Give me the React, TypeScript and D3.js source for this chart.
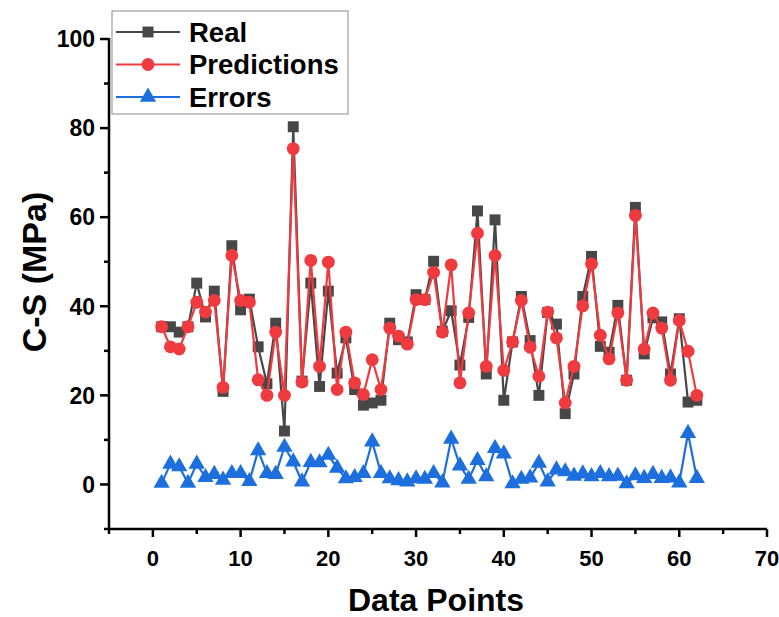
import React from 'react'
import * as d3 from 'd3'

// data
const real = [
  35.4, 35.4, 34.2, 35.4, 45.2, 37.6, 43.4, 20.9, 53.6, 39.2,
  41.6, 30.9, 22.6, 36.2, 12.0, 80.3, 23.2, 45.2, 22.0, 43.4,
  25.0, 32.9, 21.3, 17.8, 18.3, 18.9, 36.2, 32.5, 32.0, 42.6,
  41.5, 50.1, 34.4, 39.0, 26.8, 37.5, 61.4, 24.8, 59.4, 18.9,
  32.0, 42.2, 32.3, 20.0, 38.6, 36.0, 15.9, 24.8, 42.2, 51.2,
  31.0, 29.7, 40.2, 23.4, 62.2, 29.3, 37.4, 36.5, 24.8, 37.2,
  18.5, 18.9,
]
const predictions = [
  35.4, 30.9, 30.4, 35.4, 40.9, 38.7, 41.3, 21.8, 51.4, 41.3,
  40.9, 23.5, 20.0, 34.2, 20.0, 75.4, 23.0, 50.3, 26.5, 49.9,
  21.3, 34.2, 22.8, 20.2, 28.0, 21.3, 35.1, 33.3, 31.5, 41.5,
  41.5, 47.6, 34.2, 49.3, 22.8, 38.5, 56.4, 26.5, 51.4, 25.6,
  32.0, 41.3, 30.8, 24.3, 38.7, 32.9, 18.3, 26.5, 40.1, 49.5,
  33.5, 28.2, 38.5, 23.4, 60.4, 30.4, 38.5, 35.1, 23.4, 36.8,
  29.9, 20.0,
]
const errors = [
  0.3, 4.6, 4.0, 0.3, 4.6, 1.6, 2.3, 1.0, 2.5, 2.5,
  0.7, 7.6, 2.5, 2.3, 8.4, 5.1, 0.6, 5.0, 4.9, 6.6,
  3.7, 1.3, 1.6, 2.5, 9.6, 2.5, 1.3, 0.9, 0.6, 1.3,
  1.2, 2.5, 0.4, 10.2, 4.2, 1.2, 5.4, 1.8, 8.1, 6.9,
  0.2, 1.2, 1.5, 4.8, 0.6, 3.3, 2.9, 1.9, 2.4, 1.8,
  2.5, 1.8, 1.9, 0.2, 2.0, 1.4, 2.3, 1.4, 1.5, 0.4,
  11.5, 1.4,
]
const points = d3.range(1, real.length + 1)

const xTicks = [0, 10, 20, 30, 40, 50, 60, 70]
const xMinor = [-5, 5, 15, 25, 35, 45, 55, 65]
const yTicks = [0, 20, 40, 60, 80, 100]
const yMinor = [-10, 10, 30, 50, 70, 90]

const series = [
  { name: 'Real', values: real, color: '#474747', shape: d3.symbolSquare },
  { name: 'Predictions', values: predictions, color: '#ef3b3f', shape: d3.symbolCircle },
  { name: 'Errors', values: errors, color: '#1c6fdc', shape: d3.symbolTriangle },
]

const W = 779
const H = 617
const margin = { left: 109, right: 12, top: 39, bottom: 88 }
const FONT = '"Liberation Sans", Arial, sans-serif'

const x = d3.scaleLinear().domain([-5, 70]).range([margin.left, W - margin.right])
const y = d3.scaleLinear().domain([-10, 100]).range([H - margin.bottom, margin.top])

const markerSize = { Real: 120, Predictions: 130, Errors: 115 }

export default function App() {
  const line = d3.line<number>().x((_, i) => x(points[i])).y(d => y(d))

  return (
    <svg
      width={W}
      height={H}
      style={{ position: 'absolute', left: 0, top: 0, background: '#fff' }}
      fontFamily={FONT}
    >
      {/* series */}
      {series.map(s => (
        <g key={s.name}>
          <path d={line(s.values)} fill="none" stroke={s.color} strokeWidth={2.2} />
          {s.values.map((v, i) => (
            <path
              key={i}
              transform={`translate(${x(points[i])},${y(v)})`}
              d={d3.symbol(s.shape, markerSize[s.name])()}
              fill={s.color}
            />
          ))}
        </g>
      ))}

      {/* axes */}
      <g stroke="#000" strokeWidth={2.5}>
        <line x1={margin.left} x2={margin.left} y1={y(100) - 1} y2={y(-10) + 1} />
        <line x1={margin.left - 1} x2={x(70)} y1={y(-10)} y2={y(-10)} />
        {yTicks.map(t => (
          <line key={t} x1={margin.left - 9} x2={margin.left} y1={y(t)} y2={y(t)} />
        ))}
        {yMinor.map(t => (
          <line key={t} x1={margin.left - 5} x2={margin.left} y1={y(t)} y2={y(t)} />
        ))}
        {xTicks.map(t => (
          <line key={t} x1={x(t)} x2={x(t)} y1={y(-10)} y2={y(-10) + 8} />
        ))}
        {xMinor.map(t => (
          <line key={t} x1={x(t)} x2={x(t)} y1={y(-10)} y2={y(-10) + 5} />
        ))}
      </g>
      {yTicks.map(t => (
        <text
          key={t}
          x={margin.left - 14}
          y={y(t)}
          dy="0.36em"
          textAnchor="end"
          fontSize={23}
          fontWeight="bold"
        >
          {t}
        </text>
      ))}
      {xTicks.map(t => (
        <text
          key={t}
          x={x(t)}
          y={y(-10) + 37}
          textAnchor="middle"
          fontSize={22}
          fontWeight="bold"
        >
          {t}
        </text>
      ))}
      <text x={436} y={611} textAnchor="middle" fontSize={32} fontWeight="bold">
        Data Points
      </text>
      <text
        transform={`translate(46,272) rotate(-90)`}
        textAnchor="middle"
        fontSize={34}
        fontWeight="bold"
      >
        C-S (MPa)
      </text>

      {/* legend */}
      <g>
        <rect x={112} y={11} width={236} height={103} fill="#fff" stroke="#8a8a8a" strokeWidth={1} />
        {series.map((s, i) => {
          const ly = 32 + i * 32.5
          return (
            <g key={s.name}>
              <line x1={116} x2={180} y1={ly} y2={ly} stroke={s.color} strokeWidth={2} />
              <path
                transform={`translate(148,${ly})`}
                d={d3.symbol(s.shape, markerSize[s.name])()}
                fill={s.color}
              />
              <text x={189} y={ly} dy="0.36em" fontSize={27.5} fontWeight="bold">
                {s.name}
              </text>
            </g>
          )
        })}
      </g>
    </svg>
  )
}
